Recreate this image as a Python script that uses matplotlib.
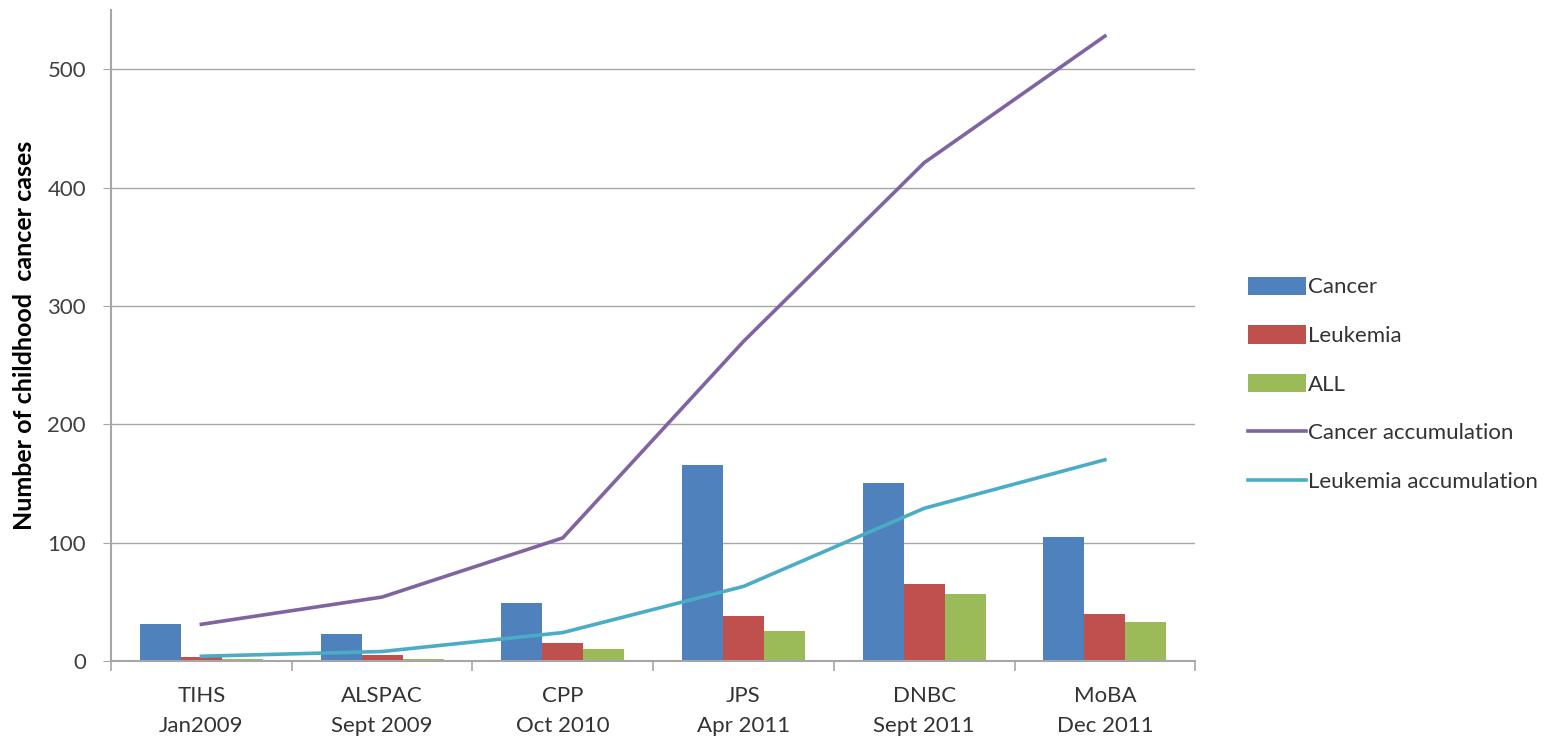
import matplotlib.pyplot as plt
import numpy as np

plt.rcParams['font.family'] = ['Lato', 'DejaVu Sans']

studies = ['TIHS\nJan2009', 'ALSPAC\nSept 2009', 'CPP\nOct 2010',
           'JPS\nApr 2011', 'DNBC\nSept 2011', 'MoBA\nDec 2011']
cancer = [31, 23, 49, 166, 150, 105]
leukemia = [3, 5, 15, 38, 65, 40]
all_cases = [2, 2, 10, 25, 57, 33]
cancer_acc = [31, 54, 104, 270, 421, 528]
leukemia_acc = [4, 8, 24, 63, 129, 170]

x = np.arange(len(studies))
w = 0.227

fig = plt.figure(figsize=(15.68, 7.42), dpi=100)
ax = fig.add_axes([0.0708, 0.1092, 0.6915, 0.8773])

b1 = ax.bar(x - w, cancer, w, color='#4F81BD', label='Cancer', zorder=2)
b2 = ax.bar(x, leukemia, w, color='#C0504D', label='Leukemia', zorder=2)
b3 = ax.bar(x + w, all_cases, w, color='#9BBB59', label='ALL', zorder=2)
l1, = ax.plot(x, cancer_acc, color='#8064A2', lw=2.6, label='Cancer accumulation', zorder=3)
l2, = ax.plot(x, leukemia_acc, color='#4BACC6', lw=2.6, label='Leukemia accumulation', zorder=3)

ax.set_xlim(-0.5, 5.5)
ax.set_ylim(0, 550)
ax.set_yticks([0, 100, 200, 300, 400, 500])
ax.yaxis.grid(True, color='#a6a6a6', lw=1)
ax.set_axisbelow(True)

ax.set_xticks(x)
ax.set_xticklabels(studies, fontsize=16, color='#333333', linespacing=1.6)
ax.set_xticks(np.arange(-0.5, 6.0, 1), minor=True)
ax.tick_params(axis='x', which='major', length=0, pad=18)
ax.tick_params(axis='x', which='minor', length=7, color='#a6a6a6', width=1.2)
ax.tick_params(axis='y', length=6, color='#a6a6a6', labelsize=16, labelcolor='#404040', pad=12)

for s in ['top', 'right']:
    ax.spines[s].set_visible(False)
ax.spines['left'].set_color('#a6a6a6')
ax.spines['bottom'].set_color('#a6a6a6')
ax.spines['left'].set_linewidth(1.5)
ax.spines['bottom'].set_linewidth(1.5)

ax.set_ylabel('Number of childhood  cancer cases', fontsize=18, fontweight='bold', labelpad=8)

fig.legend(handles=[b1, b2, b3, l1, l2], loc='center left', bbox_to_anchor=(0.789, 0.482),
           frameon=False, fontsize=16, handlelength=2.6, handleheight=0.9, handletextpad=0.1,
           labelspacing=1.25, borderpad=0, labelcolor='#333333')

plt.savefig('out.png')
